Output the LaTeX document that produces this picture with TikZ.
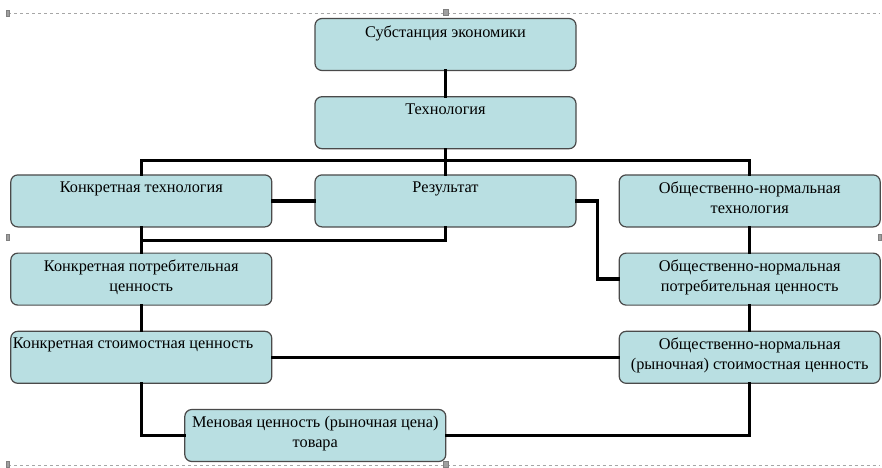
\documentclass[tikz,border=0pt]{standalone}
\usepackage{fontspec}
\setmainfont{Liberation Serif}
\usetikzlibrary{positioning}

\definecolor{boxfill}{HTML}{B9DFE2}
\definecolor{boxline}{HTML}{4A4A4A}
\newcommand{\boxtext}[1]{\parbox[c][38pt][t]{257pt}{\centering #1}}

\begin{document}
\begin{tikzpicture}[
  node distance=25pt and 42pt,
  box/.style={rectangle, rounded corners=7pt, draw=boxline, fill=boxfill, line width=1.2pt, minimum width=261pt, minimum height=52pt, inner sep=2pt, font=\fontsize{16.3}{20}\selectfont},
  link/.style={line width=3.4pt, line cap=rect},
  frame/.style={gray!70, dashed, line width=0.6pt},
  handle/.style={fill=gray!75, draw=gray}
]
\useasboundingbox (-445.5pt,-422.5pt) rectangle (436.5pt,44.5pt);
% page frame
\draw[frame] (-437pt,31.5pt) -- (434.5pt,31.5pt);
\draw[frame] (-437pt,-420.5pt) -- (434.5pt,-420.5pt);
\fill[handle] (-2.5pt,29pt) rectangle (2.5pt,35pt);
\fill[handle] (-2.5pt,-423pt) rectangle (2.5pt,-417pt);
\fill[handle] (-439pt,28.5pt) rectangle (-436pt,34.5pt);
\fill[handle] (-439pt,-196pt) rectangle (-436pt,-190pt);
\fill[handle] (433pt,-196pt) rectangle (436pt,-190pt);
\fill[handle] (-439pt,-423pt) rectangle (-436pt,-417pt);

\node[box] (subst) at (0,0) {\boxtext{Субстанция экономики}};
\node[box, below=of subst] (tech) {\boxtext{Технология}};
\node[box, below=of tech] (result) {\boxtext{Результат}};
\node[box, left=of result] (konktech) {\boxtext{Конкретная технология}};
\node[box, right=of result] (obtech) {\boxtext{Общественно-нормальная\\технология}};
\node[box, below=of konktech] (konkpotr) {\boxtext{Конкретная потребительная\\ценность}};
\node[box, below=of konkpotr] (konkstoim) {\parbox[c][38pt][t]{257pt}{Конкретная стоимостная ценность}};
\node[box, below=of obtech] (obpotr) {\boxtext{Общественно-нормальная\\потребительная ценность}};
\node[box, below=of obpotr] (obstoim) {\boxtext{Общественно-нормальная\\(рыночная) стоимостная ценность}};
\node[box, below=of konkstoim, xshift=174pt] (menov) {\boxtext{Меновая ценность (рыночная цена)\\товара}};

% connectors
\draw[link] (subst) -- (tech);
\draw[link] (tech) -- (result);
\draw[link] (konktech.north) -- ++(0,14pt) -| (obtech.north);
\draw[link] (konktech) -- (result);
\draw[link] (konktech) -- (konkpotr);
\draw[link] (result.south) -- ++(0,-13pt) -| (konktech.south);
\draw[link] (result.east) -- ++(21pt,0) |- (obpotr.west);
\draw[link] (obtech) -- (obpotr);
\draw[link] (konkpotr) -- (konkstoim);
\draw[link] (obpotr) -- (obstoim);
\draw[link] (konkstoim) -- (obstoim);
\draw[link] (konkstoim.south) |- (menov.west);
\draw[link] (obstoim.south) |- (menov.east);
\end{tikzpicture}
\end{document}
